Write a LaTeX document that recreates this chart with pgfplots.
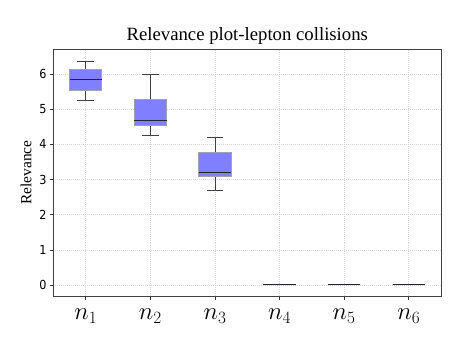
\documentclass[border=0pt]{standalone}
\usepackage{pgfplots}
\pgfplotsset{compat=1.18}
\usepgfplotslibrary{statistics}
\usepackage{fontspec}
\setmainfont{Liberation Serif}
\newfontfamily\tickfont{DejaVu Sans Condensed}
\definecolor{boxfill}{HTML}{7F7FFF}
\definecolor{boxedge}{HTML}{A0A0B8}
\begin{document}
\begin{tikzpicture}
\path[use as bounding box] (-53.5bp,-61bp) rectangle (422.5bp,296.3bp);
\begin{axis}[
  at={(0,0)}, anchor=south west,
  scale only axis,
  width=387.5bp, height=247.3bp,
  xmin=0.5, xmax=6.5,
  ymin=-0.32, ymax=6.71,
  xtick={1,2,3,4,5,6},
  xticklabels={$n_1$,$n_2$,$n_3$,$n_4$,$n_5$,$n_6$},
  x tick label style={font=\fontsize{23}{23}\selectfont, yshift=-6bp},
  ytick={0,1,2,3,4,5,6},
  y tick label style={font=\tickfont\fontsize{12.5}{13}\selectfont},
  /pgf/number format/assume math mode=true,
  tick align=outside,
  xtick pos=left, ytick pos=left,
  major tick length=3.5bp,
  every tick/.style={black!80, line width=0.6pt},
  grid=major,
  major grid style={gray!30, dash pattern=on 1pt off 1pt, line width=0.7pt},
  axis line style={black!75, line width=0.8pt},
  title={Relevance plot-lepton collisions},
  title style={font=\fontsize{18.8}{19}\selectfont, yshift=-5bp},
  ylabel={Relevance},
  ylabel style={font=\fontsize{15.5}{16}\selectfont, yshift=1bp},
  boxplot/draw direction=y,
  boxplot/box extend=0.5,
  boxplot/whisker extend=0.26,
  boxplot/every box/.style={draw=boxedge, fill=boxfill, line width=0.9pt},
  boxplot/every median/.style={black!85, line width=1pt},
  boxplot/every whisker/.style={black!75, line width=0.9pt},
]
\addplot[boxplot prepared={draw position=1, lower whisker=5.25, lower quartile=5.52, median=5.84, upper quartile=6.14, upper whisker=6.37}] coordinates {};
\addplot[boxplot prepared={draw position=2, lower whisker=4.26, lower quartile=4.53, median=4.68, upper quartile=5.28, upper whisker=5.99}] coordinates {};
\addplot[boxplot prepared={draw position=3, lower whisker=2.69, lower quartile=3.10, median=3.20, upper quartile=3.78, upper whisker=4.19}] coordinates {};
\addplot[boxplot prepared={draw position=4, lower whisker=0.01, lower quartile=0.01, median=0.01, upper quartile=0.01, upper whisker=0.01}] coordinates {};
\addplot[boxplot prepared={draw position=5, lower whisker=0.01, lower quartile=0.01, median=0.01, upper quartile=0.01, upper whisker=0.01}] coordinates {};
\addplot[boxplot prepared={draw position=6, lower whisker=0.01, lower quartile=0.01, median=0.01, upper quartile=0.01, upper whisker=0.01}] coordinates {};
\end{axis}
\end{tikzpicture}
\end{document}
